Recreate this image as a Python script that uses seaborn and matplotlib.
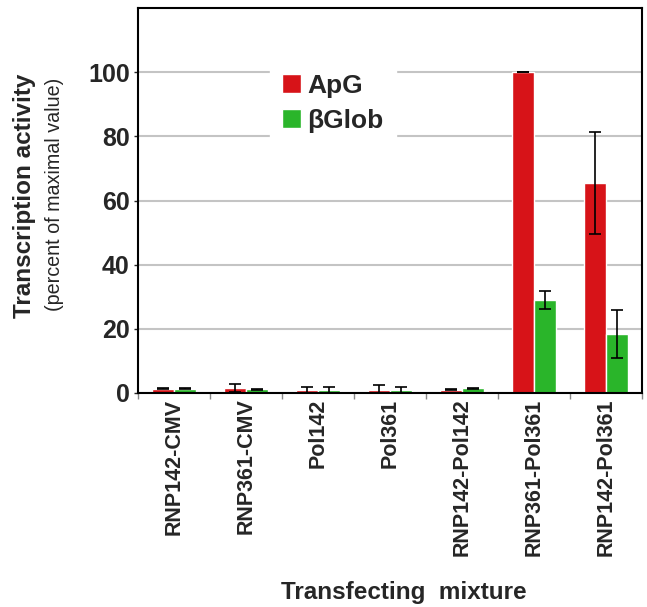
import numpy as np
import pandas as pd
import seaborn as sns
import matplotlib.pyplot as plt

# Data
mixtures = ['RNP142-CMV', 'RNP361-CMV', 'Pol142', 'Pol361',
            'RNP142-Pol142', 'RNP361-Pol361', 'RNP142-Pol361']
apg = [1.3, 1.5, 0.8, 0.8, 1.0, 100.0, 65.5]
apg_err = [0.2, 1.3, 1.1, 1.6, 0.2, 0.0, 16.0]
bglob = [1.3, 1.1, 0.8, 0.8, 1.5, 29.0, 18.4]
bglob_err = [0.2, 0.1, 1.1, 1.1, 0.2, 2.8, 7.6]
series = ['ApG', 'βGlob']

df = pd.DataFrame({
    'mixture': mixtures * 2,
    'series': [series[0]] * len(mixtures) + [series[1]] * len(mixtures),
    'value': apg + bglob,
})
errs = [apg_err, bglob_err]

sns.set_style('white')
plt.rcParams['font.family'] = ['Liberation Sans', 'DejaVu Sans']

fig = plt.figure(figsize=(6.47, 6.07), dpi=100)
ax = fig.add_axes([138 / 647, 1 - 393 / 607, 504 / 647, 385 / 607])

sns.barplot(data=df, x='mixture', y='value', hue='series',
            palette=['#d71318', '#2ab52a'], width=0.6, saturation=1,
            errorbar=None, ax=ax, zorder=2)

# Error bars on top of the seaborn bars
for cont, err in zip(ax.containers, errs):
    xs = [b.get_x() + b.get_width() / 2 for b in cont]
    hs = [b.get_height() for b in cont]
    ax.errorbar(xs, hs, yerr=err, fmt='none', ecolor='black',
                elinewidth=1.2, capsize=4, capthick=1.2, zorder=3)

ax.set_ylim(0, 120)
ax.set_xlim(-0.5, len(mixtures) - 0.5)
ax.set_yticks([0, 20, 40, 60, 80, 100])
ax.yaxis.grid(True, color='#c4c4c4', linewidth=1.5, zorder=0)
ax.set_axisbelow(True)

for s in ax.spines.values():
    s.set_visible(True)
    s.set_color('black')
    s.set_linewidth(1.5)

ax.tick_params(axis='y', left=True, length=3, width=1, pad=3, labelsize=18)
ax.set_xticks(range(len(mixtures)))
ax.set_xticklabels(mixtures, rotation=90, fontweight='bold', fontsize=15.5)
ax.tick_params(axis='x', length=0, pad=4)
ax.set_xticks(np.arange(-0.5, len(mixtures), 1), minor=True)
ax.tick_params(axis='x', which='minor', bottom=True, length=4, width=1, color='#888888')
for lab in ax.get_yticklabels():
    lab.set_fontweight('bold')

ax.set_xlabel('')
ax.set_ylabel('')

handles, labels = ax.get_legend_handles_labels()
leg = ax.legend(handles, labels, loc='upper left', bbox_to_anchor=(0.236, 0.894),
                prop={'weight': 'bold', 'size': 19}, handlelength=0.72, handleheight=0.72,
                handletextpad=0.25, labelspacing=0.42, borderpad=0.45,
                frameon=True, facecolor='white', edgecolor='white', framealpha=1)
leg.set_zorder(4)

fig.text(25 / 647, 1 - 196 / 607, 'Transcription activity', rotation=90,
         ha='center', va='center', fontsize=17.5, fontweight='bold')
fig.text(54 / 647, 1 - 194 / 607, '(percent of maximal value)', rotation=90,
         ha='center', va='center', fontsize=14.2)
fig.text(404 / 647, 1 - 593 / 607, 'Transfecting  mixture',
         ha='center', va='center', fontsize=17.5, fontweight='bold')

fig.savefig('out.png', dpi=100)
